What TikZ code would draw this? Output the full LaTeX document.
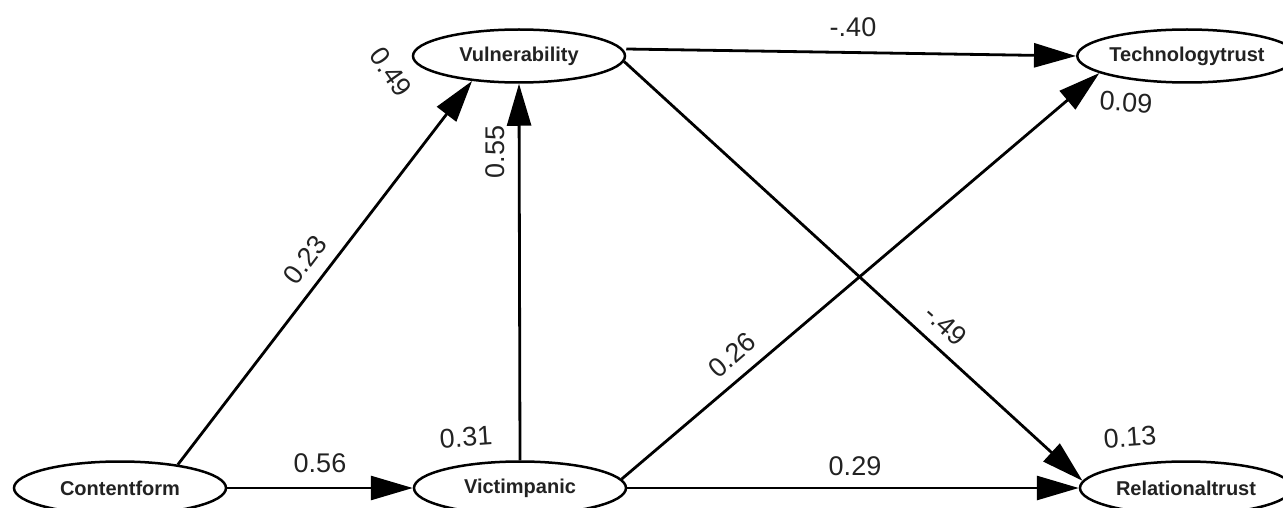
\documentclass[tikz,border=0pt]{standalone}
\usepackage{xcolor}
\usepackage{tikz}
\usetikzlibrary{arrows.meta,positioning,shapes.geometric}
\usepackage{fontspec}
\setmainfont{Liberation Sans}
\definecolor{inkblack}{HTML}{000000}
\definecolor{labelgrey}{HTML}{222222}

\tikzset{
  construct/.style={ellipse,draw=inkblack,line width=2.5pt,fill=white,
    minimum width=212pt,minimum height=53pt,inner sep=0pt,
    font=\fontsize{20}{23}\selectfont\bfseries,text=labelgrey},
  pathline/.style={draw=inkblack,line width=2.8pt,
    -{Triangle[length=42pt,width=24pt]}},
  coef/.style={font=\fontsize{27}{30}\selectfont,text=labelgrey,inner sep=0pt},
  rsq/.style={coef}
}

\begin{document}
\begin{tikzpicture}[x=1pt,y=-1pt]
    \useasboundingbox (0,0) rectangle (1283,508);

    % constructs
    \node[construct] (content)   at (120,488) {Contentform};
    \node[construct] (victim)    at (520,488) {Victimpanic};
    \node[construct] (vulner)    at (519,56)  {Vulnerability};
    \node[construct] (techtrust) at (1187,56) {Technologytrust};
    \node[construct] (reltrust)  at (1186,488) {Relationaltrust};

    % paths
    \draw[pathline] (content.22) -- (vulner.208);
    \draw[pathline] (content) -- (victim);
    \draw[pathline] (victim.north) -- (vulner.south);
    \draw[pathline] ([yshift=7pt]vulner.east) -- (techtrust.west);
    \draw[pathline] (vulner.-3) -- (reltrust.176);
    \draw[pathline] (victim.5) -- (techtrust.191);
    \draw[pathline] (victim.east) -- (reltrust.west);

    % coefficients
    \node[coef,rotate=53]  (c1) at (305,260) {0.23};
    \node[coef]            (c2) at (320,463) {0.56};
    \node[coef,rotate=90]  (c3) at (495,152) {0.55};
    \node[coef]            (c4) at (853,27)  {-.40};
    \node[coef,rotate=-42] (c5) at (946,325) {-.49};
    \node[coef,rotate=41]  (c6) at (732,355) {0.26};
    \node[coef]            (c7) at (855,466) {0.29};

    % explained variance
    \node[rsq,rotate=-55] (r1) at (391,72)   {0.49};
    \node[rsq,rotate=4]   (r2) at (466,437)  {0.31};
    \node[rsq,rotate=-4]  (r3) at (1126,102) {0.09};
    \node[rsq,rotate=4]   (r4) at (1130,437) {0.13};
\end{tikzpicture}
\end{document}
